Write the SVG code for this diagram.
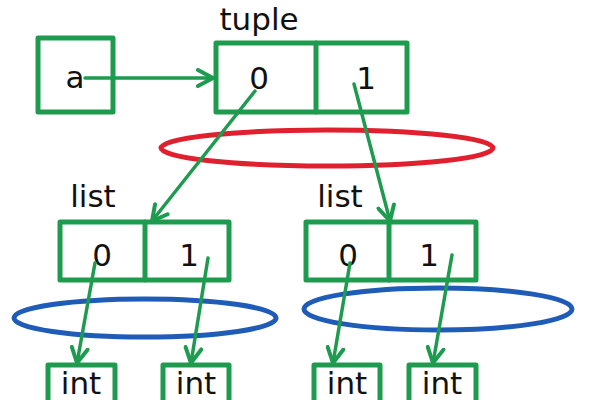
<svg xmlns="http://www.w3.org/2000/svg" width="600" height="400" viewBox="0 0 600 400">
<style>
.box{fill:none;stroke:#1e9b4f;stroke-width:5;stroke-linejoin:round;stroke-linecap:round}
.edge{fill:none;stroke:#1e9b4f;stroke-width:3.5;stroke-linecap:round}
.t{font-family:"DejaVu Sans","Liberation Sans",sans-serif;font-size:31px;fill:#111}
.ov{fill:none;stroke-width:5}
</style>
<defs>
<marker id="ah" viewBox="-17 -10 19 20" markerWidth="19" markerHeight="20" refX="0" refY="0" orient="auto" markerUnits="userSpaceOnUse">
<path d="M-15,-8 L0,0 L-15,8" fill="none" stroke="#1e9b4f" stroke-width="4" stroke-linecap="round" stroke-linejoin="round"/>
</marker>
</defs>
<rect width="600" height="400" fill="#fff"/>
<ellipse cx="327" cy="148" rx="166" ry="18" class="ov" stroke="#e0202e"/>
<ellipse cx="145" cy="318" rx="131" ry="19" class="ov" stroke="#1f5cb8"/>
<ellipse cx="438" cy="309" rx="134" ry="21" class="ov" stroke="#1f5cb8"/>
<g id="node-a">
<rect x="38" y="38" width="75" height="74" class="box"/>
<text x="75" y="88" class="t" text-anchor="middle">a</text>
</g>
<g id="node-tuple">
<text x="259" y="30" class="t" text-anchor="middle">tuple</text>
<rect x="216" y="43" width="191" height="69" class="box"/>
<line x1="316" y1="43" x2="316" y2="112" class="box"/>
<text x="259" y="89" class="t" text-anchor="middle">0</text>
<text x="366" y="89" class="t" text-anchor="middle">1</text>
</g>
<g id="node-list1">
<text x="93" y="207" class="t" text-anchor="middle">list</text>
<rect x="60" y="222" width="169" height="58" class="box"/>
<line x1="145" y1="222" x2="145" y2="280" class="box"/>
<text x="102" y="266" class="t" text-anchor="middle">0</text>
<text x="189" y="266" class="t" text-anchor="middle">1</text>
</g>
<g id="node-list2">
<text x="340" y="207" class="t" text-anchor="middle">list</text>
<rect x="306" y="222" width="170" height="58" class="box"/>
<line x1="389" y1="222" x2="389" y2="280" class="box"/>
<text x="348" y="266" class="t" text-anchor="middle">0</text>
<text x="429" y="266" class="t" text-anchor="middle">1</text>
</g>
<g id="node-int1">
<rect x="48" y="365" width="67" height="50" class="box"/>
<text x="81" y="394" class="t" text-anchor="middle">int</text>
</g>
<g id="node-int2">
<rect x="163" y="365" width="66" height="50" class="box"/>
<text x="196" y="394" class="t" text-anchor="middle">int</text>
</g>
<g id="node-int3">
<rect x="314" y="365" width="66" height="50" class="box"/>
<text x="347" y="394" class="t" text-anchor="middle">int</text>
</g>
<g id="node-int4">
<rect x="409" y="365" width="67" height="50" class="box"/>
<text x="442" y="394" class="t" text-anchor="middle">int</text>
</g>
<g id="connectors">
<line x1="85" y1="78" x2="213" y2="78" class="edge" marker-end="url(#ah)"/>
<line x1="255" y1="91" x2="152" y2="221" class="edge" marker-end="url(#ah)"/>
<line x1="354" y1="84" x2="390" y2="221" class="edge" marker-end="url(#ah)"/>
<line x1="95" y1="263" x2="77" y2="363" class="edge" marker-end="url(#ah)"/>
<line x1="208" y1="258" x2="191" y2="363" class="edge" marker-end="url(#ah)"/>
<line x1="350" y1="263" x2="333" y2="363" class="edge" marker-end="url(#ah)"/>
<line x1="452" y1="255" x2="433" y2="363" class="edge" marker-end="url(#ah)"/>
</g>
</svg>
